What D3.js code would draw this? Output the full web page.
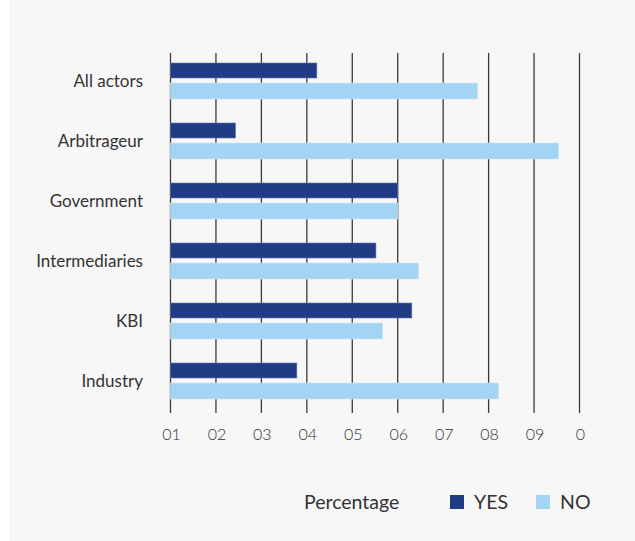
<!DOCTYPE html>
<meta charset="utf-8">
<head>
<style>
  *{ margin:0; padding:0; }
  html,body{ width:635px; height:541px; background:#fff; overflow:hidden; }
  svg{ display:block; font-family: Lato, "Open Sans", sans-serif; }
</style>
</head>
<body>
<svg id="chart" width="635" height="541"></svg>
<script src="https://cdn.jsdelivr.net/npm/d3@7"></script>
<script>
// data
var actors = ["All actors", "Arbitrageur", "Government", "Intermediaries", "KBI", "Industry"];
var yesValues = [32.2, 14.3, 50.0, 45.2, 53.1, 27.8];
var noValues  = [67.6, 85.4, 50.0, 54.6, 46.7, 72.2];
var tickValues = [0, 10, 20, 30, 40, 50, 60, 70, 80, 90];
var tickLabels = ["01", "02", "03", "04", "05", "06", "07", "08", "09", "0"];
var seriesNames = ["YES", "NO"];
var colors = ["#213b85", "#a3d4f3"];

var svg = d3.select("#chart");

// grey panel, thin white strip on the left
svg.append("rect").attr("x", 9).attr("y", 0).attr("width", 626).attr("height", 541).attr("fill", "#f7f7f7");

var x = d3.scaleLinear().domain([0, 90]).range([170.5, 579.5]);
var y = d3.scaleBand().domain(actors).range([60, 420]);

// grid lines
svg.append("g").selectAll("line")
  .data(tickValues).enter().append("line")
  .attr("x1", function(d){ return x(d); })
  .attr("x2", function(d){ return x(d); })
  .attr("y1", 53).attr("y2", 413)
  .attr("stroke", "#3a3a3a").attr("stroke-width", 1.3);

// tick labels
svg.append("g").selectAll("text")
  .data(tickValues).enter().append("text")
  .attr("x", function(d){ return x(d) + 1; })
  .attr("y", 440)
  .attr("text-anchor", "middle")
  .attr("font-size", 16)
  .attr("font-weight", 300)
  .attr("fill", "#333")
  .text(function(d, i){ return tickLabels[i]; });

// bars
var rows = svg.append("g").selectAll("g")
  .data(actors).enter().append("g")
  .attr("transform", function(d){ return "translate(0," + y(d) + ")"; });

rows.append("rect")
  .attr("x", x(0)).attr("y", 3)
  .attr("width", function(d, i){ return x(yesValues[i]) - x(0); })
  .attr("height", 15)
  .attr("fill", colors[0])
  .attr("stroke", "#5f74a8").attr("stroke-width", 0.6);

rows.append("rect")
  .attr("x", x(0)).attr("y", 23)
  .attr("width", function(d, i){ return x(noValues[i]) - x(0); })
  .attr("height", 16)
  .attr("fill", colors[1])
  .attr("stroke", "#d0e8f8").attr("stroke-width", 0.6);

rows.append("text")
  .attr("x", 143).attr("y", 23)
  .attr("text-anchor", "end")
  .attr("dominant-baseline", "middle")
  .attr("font-size", 17)
  .attr("fill", "#333")
  .text(function(d){ return d; });

// legend
var legend = svg.append("g");
legend.append("text").attr("x", 304).attr("y", 509)
  .attr("font-size", 19.5).attr("fill", "#333").text("Percentage");
var legX = [450, 536];
seriesNames.forEach(function(s, i){
  legend.append("rect").attr("x", legX[i]).attr("y", 495)
    .attr("width", 14).attr("height", 14).attr("fill", colors[i]);
  legend.append("text").attr("x", legX[i] + 24).attr("y", 509)
    .attr("font-size", 19.5).attr("fill", "#333").text(s);
});
</script>
</body>
